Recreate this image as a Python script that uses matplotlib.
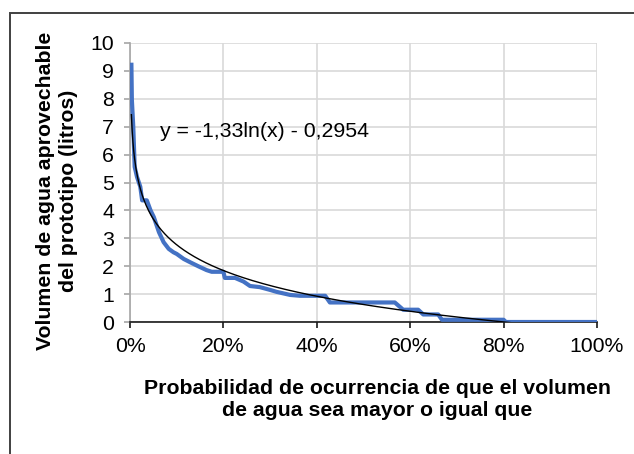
import numpy as np
import matplotlib
matplotlib.use('Agg')
from matplotlib import pyplot as plt
from matplotlib.ticker import PercentFormatter
from matplotlib.patches import Rectangle

# Probabilidad de excedencia (fraccion) y volumen aprovechable (litros).
probabilidad = [0.003, 0.004, 0.007, 0.010, 0.015, 0.022, 0.026, 0.036, 0.044, 0.051,
                0.062, 0.072, 0.083, 0.093, 0.100, 0.115, 0.129, 0.146, 0.164, 0.175,
                0.200, 0.203, 0.225, 0.243, 0.257, 0.278, 0.300, 0.314, 0.343, 0.364,
                0.418, 0.428, 0.567, 0.585, 0.617, 0.628, 0.660, 0.668, 0.800, 0.805,
                1.000]
volumen = [9.22, 7.96, 7.00, 5.56, 5.20, 4.85, 4.36, 4.36, 4.00, 3.76,
           3.22, 2.86, 2.62, 2.50, 2.44, 2.26, 2.14, 2.00, 1.86, 1.80,
           1.80, 1.58, 1.58, 1.45, 1.29, 1.25, 1.15, 1.08, 0.97, 0.94,
           0.94, 0.70, 0.70, 0.44, 0.44, 0.27, 0.27, 0.08, 0.08, 0.0,
           0.0]

# Linea de tendencia logaritmica mostrada en el grafico.
coef_a = -1.33
coef_b = -0.2954
ecuacion = 'y = -1,33ln(x) - 0,2954'

xticks = [0, 0.2, 0.4, 0.6, 0.8, 1.0]
yticks = list(range(0, 11))

titulo_x = 'Probabilidad de ocurrencia de que el volumen\nde agua sea mayor o igual que'
titulo_y = 'Volumen de agua aprovechable\ndel prototipo (litros)'

plt.rcParams['font.family'] = ['Liberation Sans', 'DejaVu Sans']

W, H = 634, 454
fig = plt.figure(figsize=(W / 100, H / 100), dpi=100)

# Borde del area del grafico (solo se ve arriba y a la izquierda).
fig.add_artist(Rectangle((10 / W, -0.5), 2.0, 1.5 - 13 / H, transform=fig.transFigure,
                         fill=False, edgecolor='#404040', linewidth=1.4))

ax = fig.add_axes([130 / W, 1 - 322 / H, (597 - 130) / W, (322 - 43) / H])

ax.plot(probabilidad, volumen, color='#4472C4', linewidth=3.0, solid_joinstyle='round', zorder=3)

xs = np.linspace(probabilidad[0], 1.0, 600)
ax.plot(xs, coef_a * np.log(xs) + coef_b, color='black', linewidth=1.0, zorder=4)

ax.text(0.064, 6.63, ecuacion, fontsize=15.3, va='baseline', ha='left')

ax.set_xlim(0, 1)
ax.set_ylim(0, 10)
ax.set_xticks(xticks)
ax.set_yticks(yticks)
ax.xaxis.set_major_formatter(PercentFormatter(1.0, decimals=0))

ax.grid(True, color='#D9D9D9', linewidth=1.2)
ax.set_axisbelow(True)

for s in ['top', 'right']:
    ax.spines[s].set_visible(False)
ax.spines['left'].set_color('#A6A6A6')
ax.spines['left'].set_linewidth(1.2)
ax.spines['bottom'].set_color('#1a1a1a')
ax.spines['bottom'].set_linewidth(1.2)

ax.tick_params(axis='y', direction='out', length=4.5, width=1.2, color='#A6A6A6',
               labelsize=15.3, pad=7)
ax.tick_params(axis='x', direction='out', length=4.5, width=1.2, color='#1a1a1a',
               labelsize=15.3, pad=6)

fig.text(377 / W, 1 - 379 / H, titulo_x, fontsize=15.3, fontweight='bold',
         ha='center', va='top', linespacing=1.2)
fig.text(57 / W, 1 - 191 / H, titulo_y, fontsize=15.3, fontweight='bold',
         ha='center', va='center', rotation=90, linespacing=1.25)

fig.savefig('out.png', dpi=100)
